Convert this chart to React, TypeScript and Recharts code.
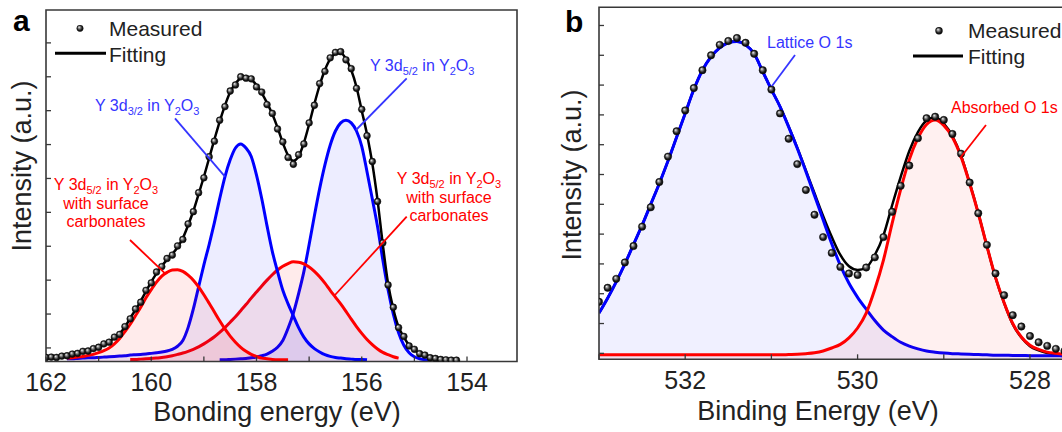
import { ComposedChart, Area, Line, Scatter, XAxis, YAxis, ReferenceArea } from 'recharts'

const FONT = '"Liberation Sans", Arial, sans-serif'
const BLUE = '#0000ff'
const RED = '#ff0000'
const NOTE_BLUE = '#3535ff'
const INK = '#222222'
const FRAME = '#383838'

// ---------- panel a : Y 3d region (binding energy, eV, 0.1 eV step) ----------
const energyA = [
  162, 161.9, 161.8, 161.7, 161.6, 161.5, 161.4, 161.3, 161.2, 161.1,
  161, 160.9, 160.8, 160.7, 160.6, 160.5, 160.4, 160.3, 160.2, 160.1,
  160, 159.9, 159.8, 159.7, 159.6, 159.5, 159.4, 159.3, 159.2, 159.1,
  159, 158.9, 158.8, 158.7, 158.6, 158.5, 158.4, 158.3, 158.2, 158.1,
  158, 157.9, 157.8, 157.7, 157.6, 157.5, 157.4, 157.3, 157.2, 157.1,
  157, 156.9, 156.8, 156.7, 156.6, 156.5, 156.4, 156.3, 156.2, 156.1,
  156, 155.9, 155.8, 155.7, 155.6, 155.5, 155.4, 155.3, 155.2, 155.1,
  155, 154.9, 154.8, 154.7, 154.6, 154.5, 154.4, 154.3, 154.2, 154.1,
  154,
]

// Y 3d3/2 in Y2O3 (blue, ~158.3 eV)
const y3d32 = [
  null, null, null, null, 0.08, 0.08, 0.09, 0.1, 0.11, 0.11,
  0.12, 0.13, 0.14, 0.15, 0.16, 0.17, 0.19, 0.2, 0.21, 0.22,
  0.24, 0.26, 0.28, 0.31, 0.36, 0.45, 0.62, 1.0, 1.55, 2.2,
  2.85, 3.45, 4.1, 4.8, 5.45, 5.95, 6.3, 6.42, 6.3, 6.05,
  5.5, 4.8, 4.0, 3.25, 2.65, 2.1, 1.7, 1.35, 1.0, 0.72,
  0.52, 0.38, 0.28, 0.2, 0.15, 0.12, 0.1, 0.08, 0.07, 0.06,
  0.06, 0.05, null, null, null, null, null, null, null, null,
  null, null, null, null, null, null, null, null, null, null,
  null,
]

// Y 3d5/2 in Y2O3 (blue, ~156.3 eV)
const y3d52 = [
  null, null, null, null, null, null, null, null, null, null,
  null, null, null, null, null, null, null, null, null, null,
  null, null, null, null, null, null, null, null, null, null,
  null, null, null, 0.05, 0.05, 0.06, 0.07, 0.08, 0.09, 0.11,
  0.13, 0.17, 0.22, 0.3, 0.42, 0.62, 0.98, 1.42, 2.0, 2.65,
  3.45, 4.3, 5.1, 5.8, 6.38, 6.8, 7.04, 7.12, 7.04, 6.8,
  6.35, 5.6, 4.8, 3.98, 3.0, 2.12, 1.4, 0.85, 0.48, 0.26,
  0.14, 0.08, 0.05, 0.04, null, null, null, null, null, null,
  null,
]

// with surface carbonates, high-energy component (red, ~159.6 eV)
const carbHigh = [
  null, null, null, null, 0.1, 0.11, 0.13, 0.15, 0.18, 0.21,
  0.26, 0.32, 0.4, 0.52, 0.68, 0.88, 1.1, 1.35, 1.6, 1.88,
  2.12, 2.34, 2.52, 2.63, 2.7, 2.71, 2.66, 2.55, 2.4, 2.2,
  1.97, 1.72, 1.46, 1.2, 0.96, 0.75, 0.57, 0.42, 0.3, 0.21,
  0.15, 0.1, 0.08, 0.06, 0.05, 0.05, 0.05, null, null, null,
  null, null, null, null, null, null, null, null, null, null,
  null, null, null, null, null, null, null, null, null, null,
  null, null, null, null, null, null, null, null, null, null,
  null,
]

// with surface carbonates, low-energy component (red, ~157.3 eV)
const carbLow = [
  null, null, null, null, null, null, null, null, null, null,
  null, null, null, null, null, null, 0.06, 0.06, 0.07, 0.08,
  0.09, 0.1, 0.12, 0.14, 0.17, 0.21, 0.25, 0.3, 0.36, 0.43,
  0.52, 0.62, 0.73, 0.86, 1.0, 1.16, 1.32, 1.5, 1.68, 1.87,
  2.05, 2.23, 2.4, 2.56, 2.7, 2.81, 2.89, 2.94, 2.93, 2.88,
  2.79, 2.66, 2.5, 2.31, 2.1, 1.9, 1.7, 1.48, 1.25, 1.03,
  0.83, 0.65, 0.5, 0.37, 0.27, 0.2, 0.14, 0.1, null, null,
  null, null, null, null, null, null, null, null, null, null,
  null,
]

const fitA = [
  null, null, null, 0.16, 0.18, 0.21, 0.24, 0.28, 0.32, 0.37,
  0.43, 0.5, 0.59, 0.7, 0.83, 1.02, 1.28, 1.52, 1.78, 2.07,
  2.35, 2.6, 2.82, 3.0, 3.17, 3.37, 3.64, 4.02, 4.44, 4.94,
  5.45, 6.0, 6.55, 7.08, 7.55, 7.95, 8.2, 8.36, 8.4, 8.32,
  8.15, 7.92, 7.63, 7.3, 6.9, 6.45, 6.08, 5.92, 6.05, 6.45,
  7.0, 7.6, 8.15, 8.6, 8.92, 9.08, 9.1, 8.93, 8.6, 8.1,
  7.4, 6.7, 5.85, 4.76, 3.45, 2.3, 1.55, 1.02, 0.72, 0.48,
  0.34, 0.25, 0.18, 0.12, 0.08, 0.06, 0.05, 0.05, null, null,
  null,
]

const measA = [
  0.12, 0.13, 0.12, 0.16, 0.17, 0.22, 0.24, 0.3, 0.31, 0.38,
  0.42, 0.52, 0.57, 0.72, 0.8, 1.03, 1.26, 1.55, 1.75, 2.1,
  2.32, 2.64, 2.8, 3.04, 3.14, 3.41, 3.6, 4.06, 4.42, 4.98,
  5.42, 6.04, 6.5, 7.12, 7.52, 7.98, 8.16, 8.4, 8.36, 8.34,
  8.1, 7.95, 7.58, 7.32, 6.86, 6.48, 6.02, 5.82, 6.1, 6.42,
  7.04, 7.56, 8.2, 8.56, 8.96, 9.12, 9.14, 8.9, 8.64, 8.06,
  7.44, 6.66, 5.9, 4.72, 3.5, 2.26, 1.6, 1.0, 0.74, 0.46,
  0.36, 0.23, 0.19, 0.11, 0.09, 0.06, 0.05, 0.04, 0.04, null,
  null,
]

const domainA = [153.05, 162]
const ticksA = [154, 155, 156, 157, 158, 159, 160, 161, 162]
const yDomainA = [0, 10.37]
const yTicksA = [0.4, 1.4, 2.4, 3.4, 4.4, 5.4, 6.4, 7.4, 8.4, 9.4]

// ---------- panel b : O 1s region ----------
const energyB = [
  533, 532.9, 532.8, 532.7, 532.6, 532.5, 532.4, 532.3, 532.2, 532.1,
  532, 531.9, 531.8, 531.7, 531.6, 531.5, 531.4, 531.3, 531.2, 531.1,
  531, 530.9, 530.8, 530.7, 530.6, 530.5, 530.4, 530.3, 530.2, 530.1,
  530, 529.9, 529.8, 529.7, 529.6, 529.5, 529.4, 529.3, 529.2, 529.1,
  529, 528.9, 528.8, 528.7, 528.6, 528.5, 528.4, 528.3, 528.2, 528.1,
  528, 527.9, 527.8, 527.7, 527.6, 527.5, 527.4,
]

const latticeO = [
  1.55, 2.05, 2.6, 3.2, 3.85, 4.5, 5.2, 5.9, 6.65, 7.45,
  8.25, 9.05, 9.7, 10.15, 10.45, 10.62, 10.66, 10.55, 10.25, 9.65,
  9.05, 8.48, 7.8, 7.08, 6.3, 5.5, 4.68, 3.88, 3.15, 2.55,
  2.08, 1.68, 1.3, 0.98, 0.76, 0.57, 0.44, 0.35, 0.28, 0.24,
  0.21, 0.19, 0.18, 0.17, 0.16, 0.15, 0.14, 0.14, 0.13, 0.13,
  0.12, 0.12, 0.12, 0.12, 0.11, 0.11, 0.11,
]

const absorbedO = [
  0.15, 0.15, 0.15, 0.15, 0.15, 0.15, 0.15, 0.15, 0.15, 0.15,
  0.15, 0.15, 0.15, 0.15, 0.15, 0.15, 0.15, 0.15, 0.15, 0.15,
  0.15, 0.15, 0.16, 0.17, 0.19, 0.22, 0.28, 0.38, 0.5, 0.72,
  1.05, 1.55, 2.35, 3.33, 4.55, 5.7, 6.7, 7.42, 7.88, 8.03,
  7.85, 7.45, 6.8, 5.9, 4.9, 3.8, 2.75, 1.9, 1.2, 0.75,
  0.47, 0.33, 0.24, 0.2, 0.17, 0.16, 0.15,
]

const fitB = [
  1.55, 2.05, 2.6, 3.2, 3.85, 4.5, 5.2, 5.9, 6.65, 7.45,
  8.25, 9.05, 9.7, 10.15, 10.45, 10.62, 10.66, 10.55, 10.25, 9.65,
  9.05, 8.48, 7.81, 7.1, 6.34, 5.57, 4.81, 4.11, 3.5, 3.12,
  3.0, 3.08, 3.5, 4.16, 5.16, 6.12, 6.99, 7.62, 8.01, 8.12,
  7.91, 7.49, 6.83, 5.92, 4.91, 3.8, 2.74, 1.89, 1.18, 0.73,
  0.44, 0.3, 0.21, 0.17, 0.14, 0.12, 0.11,
]

const measB = [
  1.93, 2.4, 2.7, 3.25, 3.8, 4.45, 5.1, 5.95, 6.8, 7.65,
  8.35, 9.1, 9.7, 10.2, 10.55, 10.68, 10.78, 10.62, 10.25, 9.7,
  9.05, 8.25, 7.4, 6.55, 5.68, 4.85, 4.1, 3.57, 3.1, 2.88,
  2.83, 3.08, 3.42, 4.1, 4.95, 5.82, 6.5, 7.42, 8.09, 8.14,
  8.03, 7.56, 6.9, 5.93, 4.9, 3.84, 2.88, 2.15, 1.48, 1.1,
  0.78, 0.57, 0.45, 0.35, 0.28, 0.22, 0.18,
]

const domainB = [527.4, 533]
const ticksB = [528, 529, 530, 531, 532, 533]
const yDomainB = [0, 11.81]
const yTicksB = [0.2, 1.2, 2.2, 3.2, 4.2, 5.2, 6.2, 7.2, 8.2, 9.2, 10.2, 11.2]

const tableA = energyA.map((ev, i) => ({
  ev,
  b32: y3d32[i],
  b52: y3d52[i],
  c1: carbHigh[i],
  c2: carbLow[i],
  fit: fitA[i],
}))
const dotsA = energyA.map((ev, i) => ({ ev, m: measA[i] })).filter((d) => d.m != null)

const tableB = energyB.map((ev, i) => ({ ev, lat: latticeO[i], abs: absorbedO[i], fit: fitB[i] }))
const dotsB = energyB.map((ev, i) => ({ ev, m: measB[i] }))

// inward ticks, labels only on even energies
function energyTick(labelGap: number) {
  return (props: any) => {
    const { x, y, payload } = props
    const v = payload.value
    return (
      <g>
        <line x1={x} x2={x} y1={y} y2={y - 5} stroke={FRAME} strokeWidth={1.3} />
        {v % 2 === 0 && (
          <text x={x} y={y + labelGap} textAnchor="middle" fontSize={25} fill={INK} fontFamily={FONT}>
            {v}
          </text>
        )}
      </g>
    )
  }
}

function intensityTick(props: any) {
  const { x, y } = props
  return <line x1={x} x2={x + 5} y1={y} y2={y} stroke={FRAME} strokeWidth={1.3} />
}

function Bead(props: any) {
  const { cx, cy, size } = props
  if (cx == null || cy == null || isNaN(cy)) return null
  return <circle cx={cx} cy={cy} r={size} fill="url(#bead)" stroke="#0a0a0a" strokeWidth={0.5} />
}

function PanelA() {
  return (
    <ComposedChart width={530} height={432} data={tableA} margin={{ top: 10, right: 13, bottom: 69.5, left: 45 }}>
      <XAxis
        dataKey="ev"
        type="number"
        domain={domainA}
        reversed
        allowDataOverflow
        ticks={ticksA}
        interval={0}
        tick={energyTick(29)}
        tickLine={false}
        axisLine={false}
        tickSize={0}
        tickMargin={0}
        height={1}
      />
      <YAxis
        type="number"
        domain={yDomainA}
        allowDataOverflow
        ticks={yTicksA}
        interval={0}
        tick={intensityTick}
        tickLine={false}
        axisLine={false}
        tickSize={0}
        tickMargin={0}
        width={1}
      />
      <Area type="monotone" dataKey="b52" stroke={BLUE} strokeWidth={3} fill={BLUE} fillOpacity={0.07} dot={false} activeDot={false} isAnimationActive={false} />
      <Area type="monotone" dataKey="c2" stroke={RED} strokeWidth={3} fill={RED} fillOpacity={0.08} dot={false} activeDot={false} isAnimationActive={false} />
      <Area type="monotone" dataKey="b32" stroke={BLUE} strokeWidth={3} fill={BLUE} fillOpacity={0.07} dot={false} activeDot={false} isAnimationActive={false} />
      <Area type="monotone" dataKey="c1" stroke={RED} strokeWidth={3} fill={RED} fillOpacity={0.08} dot={false} activeDot={false} isAnimationActive={false} />
      <Line type="monotone" dataKey="fit" stroke="#000" strokeWidth={2.5} dot={false} activeDot={false} isAnimationActive={false} />
      <Scatter data={dotsA} dataKey="m" shape={(p: any) => <Bead {...p} size={3.4} />} isAnimationActive={false} />
      <ReferenceArea x1={domainA[0]} x2={domainA[1]} y1={yDomainA[0]} y2={yDomainA[1]} fill="#fff" fillOpacity={0} stroke={FRAME} strokeWidth={1.6} ifOverflow="visible" />
    </ComposedChart>
  )
}

function PanelB() {
  return (
    <ComposedChart width={560} height={432} data={tableB} margin={{ top: 7.3, right: 8.3, bottom: 71.7, left: 68 }}>
      <XAxis
        dataKey="ev"
        type="number"
        domain={domainB}
        reversed
        allowDataOverflow
        ticks={ticksB}
        interval={0}
        tick={energyTick(30)}
        tickLine={false}
        axisLine={false}
        tickSize={0}
        tickMargin={0}
        height={1}
      />
      <YAxis
        type="number"
        domain={yDomainB}
        allowDataOverflow
        ticks={yTicksB}
        interval={0}
        tick={intensityTick}
        tickLine={false}
        axisLine={false}
        tickSize={0}
        tickMargin={0}
        width={1}
      />
      <Area type="monotone" dataKey="fit" stroke="#000" strokeWidth={2.5} fill="none" fillOpacity={0} dot={false} activeDot={false} isAnimationActive={false} />
      <Area type="monotone" dataKey="lat" stroke={BLUE} strokeWidth={3} fill={BLUE} fillOpacity={0.06} dot={false} activeDot={false} isAnimationActive={false} />
      <Area type="monotone" dataKey="abs" stroke={RED} strokeWidth={3} fill={RED} fillOpacity={0.06} dot={false} activeDot={false} isAnimationActive={false} />
      <Scatter data={dotsB} dataKey="m" shape={(p: any) => <Bead {...p} size={3.7} />} isAnimationActive={false} />
      <ReferenceArea x1={domainB[0]} x2={domainB[1]} y1={yDomainB[0]} y2={yDomainB[1]} fill="#fff" fillOpacity={0} stroke={FRAME} strokeWidth={1.6} ifOverflow="visible" />
    </ComposedChart>
  )
}

function Oxide({ x, y, sub, color, anchor = 'start' }: any) {
  return (
    <text x={x} y={y} fill={color} fontSize={16} fontFamily={FONT} textAnchor={anchor}>
      {'Y 3d'}
      <tspan fontSize={11} dy={4}>{sub}</tspan>
      <tspan dy={-4}>{' in Y'}</tspan>
      <tspan fontSize={11} dy={4}>2</tspan>
      <tspan dy={-4}>O</tspan>
      <tspan fontSize={11} dy={4}>3</tspan>
    </text>
  )
}

function Carbonate({ x, y }: any) {
  return (
    <g>
      <Oxide x={x} y={y} sub="5/2" color={RED} anchor="middle" />
      <text x={x} y={y + 18.5} fill={RED} fontSize={16} fontFamily={FONT} textAnchor="middle">with surface</text>
      <text x={x} y={y + 37} fill={RED} fontSize={16} fontFamily={FONT} textAnchor="middle">carbonates</text>
    </g>
  )
}

function Overlay() {
  return (
    <svg width={1062} height={432} style={{ position: 'absolute', left: 0, top: 0 }}>
      {/* panel letters */}
      <text x={13} y={31} fontSize={30} fontWeight="bold" fill="#000" fontFamily={FONT}>a</text>
      <text x={565} y={32} fontSize={30} fontWeight="bold" fill="#000" fontFamily={FONT}>b</text>

      {/* legends */}
      <circle cx={80} cy={28.3} r={3.4} fill="url(#bead)" />
      <text x={109} y={35.5} fontSize={21} fill={INK} fontFamily={FONT}>Measured</text>
      <line x1={55} x2={106} y1={53.3} y2={53.3} stroke="#000" strokeWidth={3} />
      <text x={109} y={61.5} fontSize={21} fill={INK} fontFamily={FONT}>Fitting</text>

      <circle cx={939} cy={30.7} r={3.7} fill="url(#bead)" />
      <text x={968} y={37.5} fontSize={21} fill={INK} fontFamily={FONT}>Measured</text>
      <line x1={913} x2={963} y1={56} y2={56} stroke="#000" strokeWidth={3} />
      <text x={968} y={63.5} fontSize={21} fill={INK} fontFamily={FONT}>Fitting</text>

      {/* axis titles */}
      <text x={277} y={421} fontSize={27} fill={INK} fontFamily={FONT} textAnchor="middle">Bonding energy (eV)</text>
      <text x={31} y={166} fontSize={27} fill={INK} fontFamily={FONT} textAnchor="middle" transform="rotate(-90 31 166)">Intensity (a.u.)</text>
      <text x={818} y={419.5} fontSize={27} fill={INK} fontFamily={FONT} textAnchor="middle">Binding Energy (eV)</text>
      <text x={581} y={175} fontSize={27} fill={INK} fontFamily={FONT} textAnchor="middle" transform="rotate(-90 581 175)">Intensity (a.u.)</text>

      {/* panel a annotations */}
      <Oxide x={95} y={111} sub="3/2" color={NOTE_BLUE} />
      <line x1={175} y1={118.3} x2={225} y2={176.7} stroke={NOTE_BLUE} strokeWidth={1.8} />
      <Oxide x={370} y={71} sub="5/2" color={NOTE_BLUE} />
      <line x1={406.7} y1={78.3} x2={356} y2={130} stroke={NOTE_BLUE} strokeWidth={1.8} />
      <Carbonate x={106} y={190} />
      <line x1={130} y1={240} x2={165} y2={273.3} stroke={RED} strokeWidth={1.8} />
      <Carbonate x={449} y={184} />
      <line x1={406.7} y1={216.7} x2={335} y2={295} stroke={RED} strokeWidth={1.8} />

      {/* panel b annotations */}
      <text x={767} y={47.7} fontSize={16} fill={NOTE_BLUE} fontFamily={FONT}>Lattice O 1s</text>
      <line x1={795} y1={55} x2={772} y2={86} stroke={NOTE_BLUE} strokeWidth={1.8} />
      <text x={951} y={113.3} fontSize={16} fill={RED} fontFamily={FONT}>Absorbed O 1s</text>
      <line x1={986} y1={125} x2={960} y2={158.3} stroke={RED} strokeWidth={1.8} />
    </svg>
  )
}

export default function App() {
  return (
    <div
      style={{
        position: 'fixed',
        left: 0,
        top: 0,
        width: 1062,
        height: 432,
        overflow: 'hidden',
        background: '#fff',
        fontFamily: FONT,
      }}
    >
      <svg width={0} height={0} style={{ position: 'absolute' }}>
        <defs>
          <radialGradient id="bead" cx="50%" cy="50%" r="55%" fx="35%" fy="32%">
            <stop offset="0%" stopColor="#f5f5f5" />
            <stop offset="30%" stopColor="#8a8a8a" />
            <stop offset="65%" stopColor="#1c1c1c" />
            <stop offset="100%" stopColor="#000" />
          </radialGradient>
        </defs>
      </svg>
      <div style={{ position: 'absolute', left: 0, top: 0 }}>
        <PanelA />
      </div>
      <div style={{ position: 'absolute', left: 530, top: 0 }}>
        <PanelB />
      </div>
      <Overlay />
    </div>
  )
}
